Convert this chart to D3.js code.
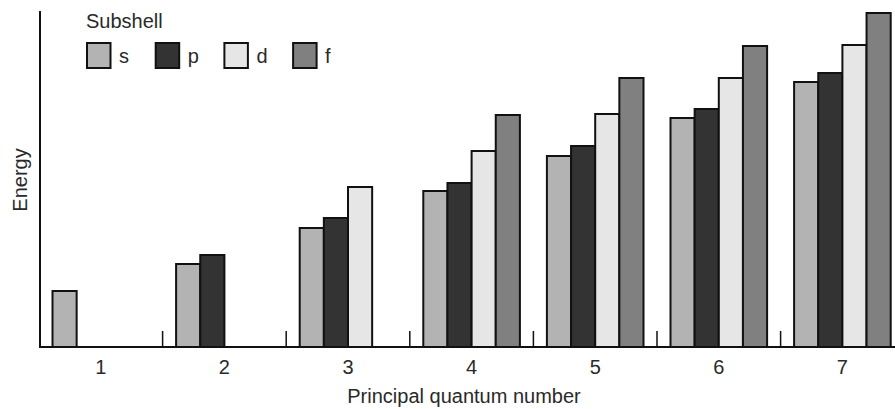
<!DOCTYPE html>
<html>
<head>
<meta charset="utf-8">
<script src="https://cdn.jsdelivr.net/npm/d3@7"></script>
<style>
  body { margin: 0; background: #fff; }
  svg { display: block; font-family: "Liberation Sans", Arial, sans-serif; }
</style>
</head>
<body>
<div id="chart"></div>
<script>
// 数据
const quantumNumbers = ["1", "2", "3", "4", "5", "6", "7"];
const subshells = ["s", "p", "d", "f"];
const subshellColors = ["#b3b3b3", "#333333", "#e6e6e6", "#808080"];
// 能量（任意单位），null 表示不存在
const sEnergy = [56, 83, 119, 156, 191, 229, 265];
const pEnergy = [null, 92, 129, 164, 201, 238, 274];
const dEnergy = [null, null, 160, 196, 233, 269, 302];
const fEnergy = [null, null, null, 232, 269, 301, 334];

const W = 895, H = 409;
const x0 = 39, baseY = 347, topY = 11;
const fontSize = 20;
const textColor = '#2a2a2a';

const svg = d3.select('#chart').append('svg')
    .attr('width', W)
    .attr('height', H);

const series = [sEnergy, pEnergy, dEnergy, fEnergy];
const rows = [];
quantumNumbers.forEach((n, i) => {
    subshells.forEach((s, j) => {
        if (series[j][i] != null) rows.push({ n: n, s: s, value: series[j][i] });
    });
});

const x = d3.scaleBand()
    .domain(quantumNumbers)
    .range([x0, x0 + 7 * 123.6])
    .padding(0);

const xInner = d3.scaleBand()
    .domain(subshells)
    .range([13.5, x.bandwidth() - 13.5])
    .padding(0);

const y = d3.scaleLinear()
    .domain([0, 336])
    .range([baseY, topY]);

const color = d3.scaleOrdinal().domain(subshells).range(subshellColors);

// 柱子
svg.append('g')
    .selectAll('rect')
    .data(rows)
    .enter().append('rect')
    .attr('x', d => x(d.n) + xInner(d.s))
    .attr('y', d => y(d.value))
    .attr('width', xInner.bandwidth())
    .attr('height', d => baseY - y(d.value))
    .attr('fill', d => color(d.s))
    .attr('stroke', '#111')
    .attr('stroke-width', 2);

// 坐标轴
svg.append('line')
    .attr('x1', 40).attr('x2', 40)
    .attr('y1', topY).attr('y2', baseY + 1)
    .attr('stroke', '#111').attr('stroke-width', 2);

svg.append('line')
    .attr('x1', 39).attr('x2', W)
    .attr('y1', baseY).attr('y2', baseY)
    .attr('stroke', '#111').attr('stroke-width', 2);

// 分组刻度（向上）
svg.append('g')
    .selectAll('line')
    .data(quantumNumbers.slice(1))
    .enter().append('line')
    .attr('x1', d => x(d))
    .attr('x2', d => x(d))
    .attr('y1', baseY - 16)
    .attr('y2', baseY)
    .attr('stroke', '#111')
    .attr('stroke-width', 1.5);

// 刻度标签
svg.append('g')
    .selectAll('text')
    .data(quantumNumbers)
    .enter().append('text')
    .attr('x', d => x(d) + x.bandwidth() / 2)
    .attr('y', 374)
    .attr('text-anchor', 'middle')
    .attr('font-size', fontSize)
    .attr('fill', textColor)
    .text(d => d);

svg.append('text')
    .attr('x', 464)
    .attr('y', 403)
    .attr('text-anchor', 'middle')
    .attr('font-size', fontSize)
    .attr('fill', textColor)
    .text('Principal quantum number');

svg.append('text')
    .attr('transform', 'translate(27,180) rotate(-90)')
    .attr('text-anchor', 'middle')
    .attr('font-size', fontSize)
    .attr('fill', textColor)
    .text('Energy');

// 图例
svg.append('text')
    .attr('x', 86)
    .attr('y', 28)
    .attr('font-size', fontSize)
    .attr('fill', textColor)
    .text('Subshell');

const legend = svg.append('g')
    .selectAll('g')
    .data(subshells)
    .enter().append('g')
    .attr('transform', (d, i) => `translate(${87 + i * 68.7},43)`);

legend.append('rect')
    .attr('width', 23.5)
    .attr('height', 25)
    .attr('fill', d => color(d))
    .attr('stroke', '#111')
    .attr('stroke-width', 2);

legend.append('text')
    .attr('x', 32)
    .attr('y', 20)
    .attr('font-size', fontSize)
    .attr('fill', textColor)
    .text(d => d);
</script>
</body>
</html>
